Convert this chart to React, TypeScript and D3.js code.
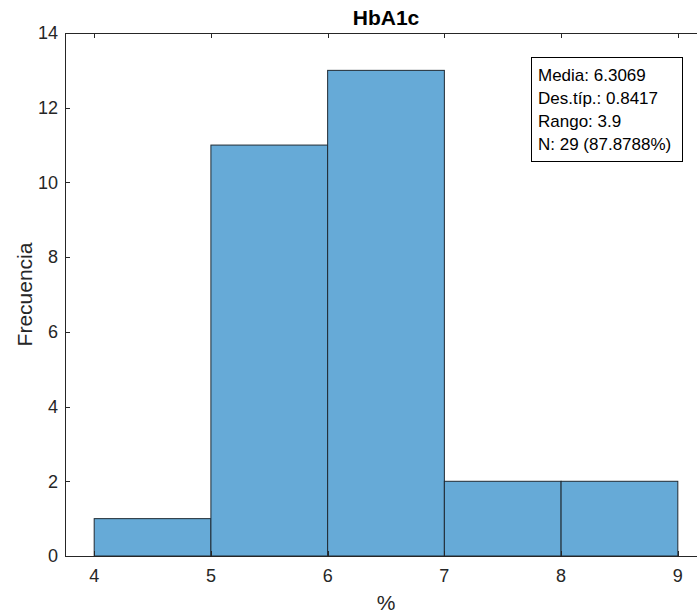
import React from "react";
import * as d3 from "d3";

const binEdges = [4, 5, 6, 7, 8, 9];
const counts = [1, 11, 13, 2, 2];
const xTicks = [4, 5, 6, 7, 8, 9];
const yTicks = [0, 2, 4, 6, 8, 10, 12, 14];
const statsLines = ["Media: 6.3069", "Des.típ.: 0.8417", "Rango: 3.9", "N: 29 (87.8788%)"];

export default function App() {
  const W = 697, H = 614;
  const left = 65, right = 707, top = 33, bottom = 556;
  const x = d3.scaleLinear().domain([3.75, 9.25]).range([left, right]);
  const y = d3.scaleLinear().domain([0, 14]).range([bottom, top]);
  const font = "'Liberation Sans', Arial, Helvetica, sans-serif";
  const axisColor = "#262626";
  const tl = 5;
  return (
    <svg width={W} height={H} style={{ position: "absolute", left: 0, top: 0, background: "#fff" }}>
      <rect x={0} y={0} width={W} height={H} fill="#fff" />
      {counts.map((c, i) => (
        <rect
          key={i}
          x={x(binEdges[i])}
          y={y(c)}
          width={x(binEdges[i + 1]) - x(binEdges[i])}
          height={y(0) - y(c)}
          fill="rgb(102,170,215)"
          stroke="#1f2a33"
          strokeWidth={1}
        />
      ))}
      <line x1={left} x2={right} y1={bottom + 0.5} y2={bottom + 0.5} stroke={axisColor} />
      <line x1={left} x2={right} y1={top + 0.5} y2={top + 0.5} stroke={axisColor} />
      <line x1={left + 0.5} x2={left + 0.5} y1={top} y2={bottom} stroke={axisColor} />
      {yTicks.map((t) => (
        <g key={"y" + t}>
          <line x1={left} x2={left + tl} y1={Math.round(y(t)) + 0.5} y2={Math.round(y(t)) + 0.5} stroke={axisColor} />
          <text x={left - 7} y={y(t)} dy="0.35em" textAnchor="end" fontFamily={font} fontSize={18} fill={axisColor}>
            {t}
          </text>
        </g>
      ))}
      {xTicks.map((t) => (
        <g key={"x" + t}>
          <line x1={Math.round(x(t)) + 0.5} x2={Math.round(x(t)) + 0.5} y1={bottom} y2={bottom - tl} stroke={axisColor} />
          <line x1={Math.round(x(t)) + 0.5} x2={Math.round(x(t)) + 0.5} y1={top} y2={top + tl} stroke={axisColor} />
          <text x={x(t)} y={582} textAnchor="middle" fontFamily={font} fontSize={18} fill={axisColor}>
            {t}
          </text>
        </g>
      ))}
      <text x={(left + right) / 2} y={25} textAnchor="middle" fontFamily={font} fontSize={21} fontWeight="bold" fill="#000">
        HbA1c
      </text>
      <text x={(left + right) / 2} y={610} textAnchor="middle" fontFamily={font} fontSize={21} fill={axisColor}>
        %
      </text>
      <text
        transform={`translate(32, ${(top + bottom) / 2}) rotate(-90)`}
        textAnchor="middle"
        fontFamily={font}
        fontSize={21}
        fill={axisColor}
      >
        Frecuencia
      </text>
      <rect x={531.5} y={57.5} width={151} height={104} fill="#fff" stroke="#000" strokeWidth={1} />
      {statsLines.map((s, i) => (
        <text key={s} x={538} y={81 + i * 23} fontFamily={font} fontSize={17} fill="#000">
          {s}
        </text>
      ))}
    </svg>
  );
}
